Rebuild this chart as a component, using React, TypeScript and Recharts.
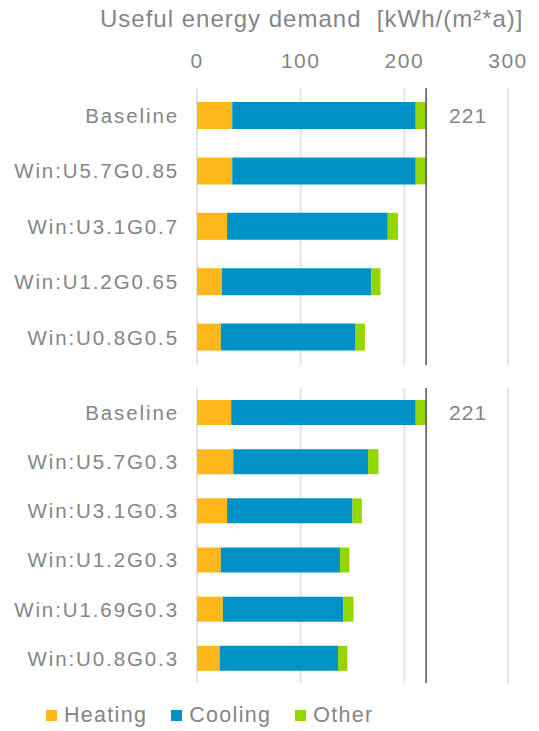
import React from 'react';
import { BarChart, Bar, XAxis, YAxis, CartesianGrid, ReferenceLine, LabelList } from 'recharts';

const topLabels = ['Baseline', 'Win:U5.7G0.85', 'Win:U3.1G0.7', 'Win:U1.2G0.65', 'Win:U0.8G0.5'];
const topHeating = [34, 34, 29, 24, 23];
const topCooling = [177, 177, 155, 144, 130];
const topOther = [10, 10, 10, 9, 9];

const bottomLabels = ['Baseline', 'Win:U5.7G0.3', 'Win:U3.1G0.3', 'Win:U1.2G0.3', 'Win:U1.69G0.3', 'Win:U0.8G0.3'];
const bottomHeating = [33, 35, 29, 23, 25, 22];
const bottomCooling = [178, 130, 121, 115, 116, 114];
const bottomOther = [10, 10, 9, 9, 10, 9];

const xTicks = [0, 100, 200, 300];
const baselineValue = 221;

const series = [
    { key: 'heating', name: 'Heating', color: '#FDB71B' },
    { key: 'cooling', name: 'Cooling', color: '#0092C7' },
    { key: 'other', name: 'Other', color: '#95D600' },
];

const FONT = '"Liberation Sans", Arial, sans-serif';
const GREY = '#858585';

const build = (labels: string[], h: number[], c: number[], o: number[]) =>
    labels.map((name, i) => ({ name, heating: h[i], cooling: c[i], other: o[i], total: h[i] + c[i] + o[i] }));

const topData = build(topLabels, topHeating, topCooling, topOther);
const bottomData = build(bottomLabels, bottomHeating, bottomCooling, bottomOther);

const TotalLabel = (props: any) => {
    const { x, y, width, height, index, data } = props;
    if (index !== 0) return null;
    return (
        <text x={x + width + 23} y={y + height / 2} dy={7} fill={GREY} fontSize={21} fontFamily={FONT} letterSpacing={1}>
            {data[index].total}
        </text>
    );
};

const Panel = ({ data, height, top, barSize, showAxis }: any) => (
    <div style={{ position: 'absolute', left: 0, top }}>
        <BarChart
            width={539}
            height={height}
            data={data}
            layout="vertical"
            margin={{ top: showAxis ? 58 : 8, right: 31, bottom: 0, left: 0 }}
            barCategoryGap={0}
        >
            <CartesianGrid horizontal={false} stroke="#e3e3e3" strokeWidth={2} />
            <XAxis
                type="number"
                orientation="top"
                domain={[0, 300]}
                ticks={xTicks}
                hide={!showAxis}
                height={30}
                axisLine={false}
                tickLine={false}
                tickSize={0}
                tickMargin={20}
                tick={{ fill: GREY, fontSize: 21, fontFamily: FONT, letterSpacing: 1.5 }}
            />
            <YAxis
                type="category"
                dataKey="name"
                width={197}
                axisLine={false}
                tickLine={false}
                tickSize={0}
                tickMargin={18}
                tick={{ fill: GREY, fontSize: 20.5, fontFamily: FONT, letterSpacing: 1.9 }}
            />
            {series.map((s) => (
                <Bar key={s.key} dataKey={s.key} name={s.name} stackId="a" fill={s.color} barSize={barSize} isAnimationActive={false}>
                    {s.key === 'other' && <LabelList dataKey="total" content={(p: any) => <TotalLabel {...p} data={data} />} />}
                </Bar>
            ))}
            <ReferenceLine x={baselineValue} stroke="#505050" strokeWidth={1.5} />
        </BarChart>
    </div>
);

export default function App() {
    return (
        <div style={{ position: 'absolute', left: 0, top: 0, width: 539, height: 731, background: '#fff', fontFamily: FONT }}>
            <div style={{ position: 'absolute', left: 100, top: 7, fontSize: 24, lineHeight: '24px', color: GREY, letterSpacing: 1, whiteSpace: 'pre' }}>
                {'Useful energy demand  [kWh/(m\u00b2*a)]'}
            </div>
            <Panel data={topData} height={365} top={0} barSize={27} showAxis />
            <Panel data={bottomData} height={683 - 380} top={380} barSize={25} showAxis={false} />
            <div style={{ position: 'absolute', left: 46, top: 703, display: 'flex', alignItems: 'center', fontSize: 21.5, color: GREY, letterSpacing: 1.3 }}>
                {series.map((s) => (
                    <div key={s.key} style={{ display: 'flex', alignItems: 'center', marginRight: 24 }}>
                        <span style={{ width: 11, height: 11, background: s.color, marginRight: 7, display: 'inline-block' }} />
                        <span>{s.name}</span>
                    </div>
                ))}
            </div>
        </div>
    );
}
